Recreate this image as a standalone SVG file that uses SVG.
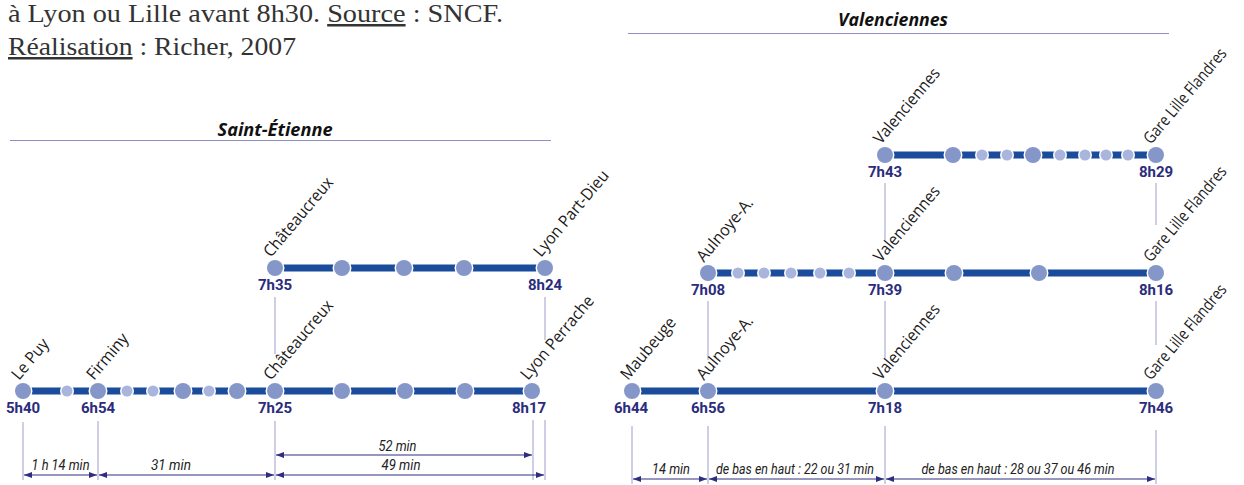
<svg xmlns="http://www.w3.org/2000/svg" width="1244" height="485" viewBox="0 0 1244 485">
<defs>
<style>
.hdr{font-family:"Liberation Serif","Times New Roman",serif;font-size:25px;fill:#333}
.ttl{font-family:"Open Sans","DejaVu Sans",sans-serif;font-size:17px;font-weight:bold;font-style:italic;fill:#111;text-anchor:middle}
.rule{stroke:#8f8fc4;stroke-width:1.2}
.trk{stroke:#1b4c9c;stroke-width:7;fill:none}
.big{fill:#8596c9;stroke:#fff;stroke-width:3;paint-order:stroke}
.sml{fill:#a9b5dc;stroke:#fff;stroke-width:3;paint-order:stroke}
.st{font-family:"Open Sans","Noto Sans",sans-serif;font-size:16.5px;fill:#1a1a1a}
.tm{font-family:Roboto,"Liberation Sans",sans-serif;font-size:15px;font-weight:bold;fill:#2b2c7c;text-anchor:middle}
.tick{stroke:#9d9dc9;stroke-width:1}
.dim{stroke:#2e2e80;stroke-width:1.2;marker-start:url(#ah);marker-end:url(#ah)}
.dt{font-family:Roboto,"Liberation Sans",sans-serif;font-size:14px;font-style:italic;fill:#222;text-anchor:middle}
</style>
<marker id="ah" viewBox="0 0 8 6" refX="8" refY="3" markerWidth="8" markerHeight="6" markerUnits="userSpaceOnUse" orient="auto-start-reverse"><path d="M0,0 L8,3 L0,6 Z" fill="#2e2e80"/></marker>
</defs>
<rect width="1244" height="485" fill="#fff"/>

<g id="caption">
<text class="hdr" x="8" y="22" textLength="495" lengthAdjust="spacingAndGlyphs">à Lyon ou Lille avant 8h30. <tspan text-decoration="underline">Source</tspan> : SNCF.</text>
<text class="hdr" x="8" y="55" textLength="288" lengthAdjust="spacingAndGlyphs"><tspan text-decoration="underline">Réalisation</tspan> : Richer, 2007</text>
</g>

<g id="titles">
<text class="ttl" x="275" y="136" textLength="115" lengthAdjust="spacingAndGlyphs">Saint-Étienne</text>
<line class="rule" x1="10" y1="140.5" x2="551" y2="140.5"/>
<text class="ttl" x="893" y="26" textLength="110" lengthAdjust="spacingAndGlyphs">Valenciennes</text>
<line class="rule" x1="628" y1="33.5" x2="1169" y2="33.5"/>
</g>

<g id="connectors">
<line class="trk" x1="275" y1="268" x2="545" y2="268"/>
<line class="trk" x1="23" y1="391" x2="532" y2="391"/>
<line class="trk" x1="885" y1="155" x2="1156" y2="155"/>
<line class="trk" x1="708" y1="273" x2="1156" y2="273"/>
<line class="trk" x1="632" y1="391" x2="1156" y2="391"/>
<line class="tick" x1="275" y1="297" x2="275" y2="354"/>
<line class="tick" x1="545" y1="297" x2="545" y2="340"/>
<line class="tick" x1="885" y1="183" x2="885" y2="240"/>
<line class="tick" x1="1156" y1="183" x2="1156" y2="225"/>
<line class="tick" x1="708" y1="301" x2="708" y2="360"/>
<line class="tick" x1="885" y1="301" x2="885" y2="358"/>
<line class="tick" x1="1156" y1="301" x2="1156" y2="345"/>
<line class="tick" x1="23" y1="422" x2="23" y2="480"/>
<line class="tick" x1="98" y1="421" x2="98" y2="480"/>
<line class="tick" x1="275" y1="421" x2="275" y2="480"/>
<line class="tick" x1="533" y1="420" x2="533" y2="480"/>
<line class="tick" x1="545" y1="420" x2="545" y2="480"/>
<line class="tick" x1="632" y1="426" x2="632" y2="484"/>
<line class="tick" x1="708" y1="426" x2="708" y2="484"/>
<line class="tick" x1="885" y1="426" x2="885" y2="484"/>
<line class="tick" x1="1156" y1="430" x2="1156" y2="484"/>
<line class="dim" x1="24" y1="475" x2="97" y2="475"/>
<line class="dim" x1="99" y1="475" x2="274" y2="475"/>
<line class="dim" x1="276" y1="455" x2="532" y2="455"/>
<line class="dim" x1="276" y1="475" x2="544" y2="475"/>
<line class="dim" x1="633" y1="479" x2="707" y2="479"/>
<line class="dim" x1="709" y1="479" x2="884" y2="479"/>
<line class="dim" x1="886" y1="479" x2="1155" y2="479"/>
<text class="dt" x="60.5" y="470" textLength="58" lengthAdjust="spacingAndGlyphs">1 h 14 min</text>
<text class="dt" x="171" y="470" textLength="40" lengthAdjust="spacingAndGlyphs">31 min</text>
<text class="dt" x="397.5" y="451" textLength="38" lengthAdjust="spacingAndGlyphs">52 min</text>
<text class="dt" x="401" y="470" textLength="39" lengthAdjust="spacingAndGlyphs">49 min</text>
<text class="dt" x="671" y="474" textLength="38" lengthAdjust="spacingAndGlyphs">14 min</text>
<text class="dt" x="795" y="474" textLength="158" lengthAdjust="spacingAndGlyphs">de bas en haut : 22 ou 31 min</text>
<text class="dt" x="1018" y="474" textLength="193" lengthAdjust="spacingAndGlyphs">de bas en haut : 28 ou 37 ou 46 min</text>
</g>

<g id="se-chateaucreux-2"><circle class="big" cx="275" cy="268" r="8"/><text class="st" transform="translate(271,258) rotate(-50)" textLength="98" lengthAdjust="spacingAndGlyphs">Châteaucreux</text><text class="tm" x="275" y="290">7h35</text></g>
<g id="se-u1"><circle class="big" cx="342" cy="268" r="8"/></g>
<g id="se-u2"><circle class="big" cx="404" cy="268" r="8"/></g>
<g id="se-u3"><circle class="big" cx="464" cy="268" r="8"/></g>
<g id="se-partdieu"><circle class="big" cx="545" cy="268" r="8"/><text class="st" transform="translate(541,258) rotate(-50)" textLength="107" lengthAdjust="spacingAndGlyphs">Lyon Part-Dieu</text><text class="tm" x="545" y="290">8h24</text></g>

<g id="se-lepuy"><circle class="big" cx="23" cy="391" r="8"/><text class="st" transform="translate(19,381) rotate(-50)" textLength="48" lengthAdjust="spacingAndGlyphs">Le Puy</text><text class="tm" x="23" y="413">5h40</text></g>
<g id="se-l1"><circle class="sml" cx="67" cy="391" r="5.5"/></g>
<g id="se-firminy"><circle class="big" cx="98" cy="391" r="8"/><text class="st" transform="translate(94,381) rotate(-50)" textLength="55" lengthAdjust="spacingAndGlyphs">Firminy</text><text class="tm" x="98" y="413">6h54</text></g>
<g id="se-l2"><circle class="sml" cx="127" cy="391" r="5.5"/></g>
<g id="se-l3"><circle class="sml" cx="153" cy="391" r="5.5"/></g>
<g id="se-l4"><circle class="big" cx="183" cy="391" r="8"/></g>
<g id="se-l5"><circle class="sml" cx="209" cy="391" r="5.5"/></g>
<g id="se-l6"><circle class="big" cx="237" cy="391" r="8"/></g>
<g id="se-chateaucreux-1"><circle class="big" cx="275" cy="391" r="8"/><text class="st" transform="translate(271,381) rotate(-50)" textLength="98" lengthAdjust="spacingAndGlyphs">Châteaucreux</text><text class="tm" x="275" y="413">7h25</text></g>
<g id="se-l7"><circle class="big" cx="342" cy="391" r="8"/></g>
<g id="se-l8"><circle class="big" cx="405" cy="391" r="8"/></g>
<g id="se-l9"><circle class="big" cx="465" cy="391" r="8"/></g>
<g id="se-perrache"><circle class="big" cx="532" cy="391" r="8"/><text class="st" transform="translate(528,381) rotate(-50)" textLength="104" lengthAdjust="spacingAndGlyphs">Lyon Perrache</text><text class="tm" x="529" y="413">8h17</text></g>

<g id="va-valenciennes-3"><circle class="big" cx="885" cy="155" r="8"/><text class="st" transform="translate(881,145) rotate(-50)" textLength="93" lengthAdjust="spacingAndGlyphs">Valenciennes</text><text class="tm" x="885" y="177">7h43</text></g>
<g id="va-t1"><circle class="big" cx="953" cy="155" r="8"/></g>
<g id="va-t2"><circle class="sml" cx="982" cy="155" r="5.5"/></g>
<g id="va-t3"><circle class="sml" cx="1007" cy="155" r="5.5"/></g>
<g id="va-t4"><circle class="big" cx="1033" cy="155" r="8"/></g>
<g id="va-t5"><circle class="sml" cx="1060" cy="155" r="5.5"/></g>
<g id="va-t6"><circle class="sml" cx="1085" cy="155" r="5.5"/></g>
<g id="va-t7"><circle class="sml" cx="1106" cy="155" r="5.5"/></g>
<g id="va-t8"><circle class="sml" cx="1128" cy="155" r="5.5"/></g>
<g id="va-lille-3"><circle class="big" cx="1156" cy="155" r="8"/><text class="st" transform="translate(1151,145) rotate(-50)" textLength="119" lengthAdjust="spacingAndGlyphs">Gare Lille Flandres</text><text class="tm" x="1156" y="177">8h29</text></g>

<g id="va-aulnoye-2"><circle class="big" cx="708" cy="273" r="8"/><text class="st" transform="translate(704,263) rotate(-50)" textLength="78" lengthAdjust="spacingAndGlyphs">Aulnoye-A.</text><text class="tm" x="708" y="295">7h08</text></g>
<g id="va-m1"><circle class="sml" cx="738" cy="273" r="5.5"/></g>
<g id="va-m2"><circle class="sml" cx="764" cy="273" r="5.5"/></g>
<g id="va-m3"><circle class="sml" cx="791" cy="273" r="5.5"/></g>
<g id="va-m4"><circle class="sml" cx="820" cy="273" r="5.5"/></g>
<g id="va-m5"><circle class="sml" cx="849" cy="273" r="5.5"/></g>
<g id="va-valenciennes-2"><circle class="big" cx="885" cy="273" r="8"/><text class="st" transform="translate(881,263) rotate(-50)" textLength="93" lengthAdjust="spacingAndGlyphs">Valenciennes</text><text class="tm" x="885" y="295">7h39</text></g>
<g id="va-m6"><circle class="big" cx="954" cy="273" r="8"/></g>
<g id="va-m7"><circle class="big" cx="1039" cy="273" r="8"/></g>
<g id="va-lille-2"><circle class="big" cx="1156" cy="273" r="8"/><text class="st" transform="translate(1151,263) rotate(-50)" textLength="119" lengthAdjust="spacingAndGlyphs">Gare Lille Flandres</text><text class="tm" x="1156" y="295">8h16</text></g>

<g id="va-maubeuge"><circle class="big" cx="632" cy="391" r="8"/><text class="st" transform="translate(628,381) rotate(-50)" textLength="76" lengthAdjust="spacingAndGlyphs">Maubeuge</text><text class="tm" x="631" y="413">6h44</text></g>
<g id="va-aulnoye-1"><circle class="big" cx="708" cy="391" r="8"/><text class="st" transform="translate(704,381) rotate(-50)" textLength="78" lengthAdjust="spacingAndGlyphs">Aulnoye-A.</text><text class="tm" x="708" y="413">6h56</text></g>
<g id="va-valenciennes-1"><circle class="big" cx="885" cy="391" r="8"/><text class="st" transform="translate(881,381) rotate(-50)" textLength="93" lengthAdjust="spacingAndGlyphs">Valenciennes</text><text class="tm" x="885" y="413">7h18</text></g>
<g id="va-lille-1"><circle class="big" cx="1156" cy="391" r="8"/><text class="st" transform="translate(1151,381) rotate(-50)" textLength="119" lengthAdjust="spacingAndGlyphs">Gare Lille Flandres</text><text class="tm" x="1156" y="413">7h46</text></g>
</svg>
